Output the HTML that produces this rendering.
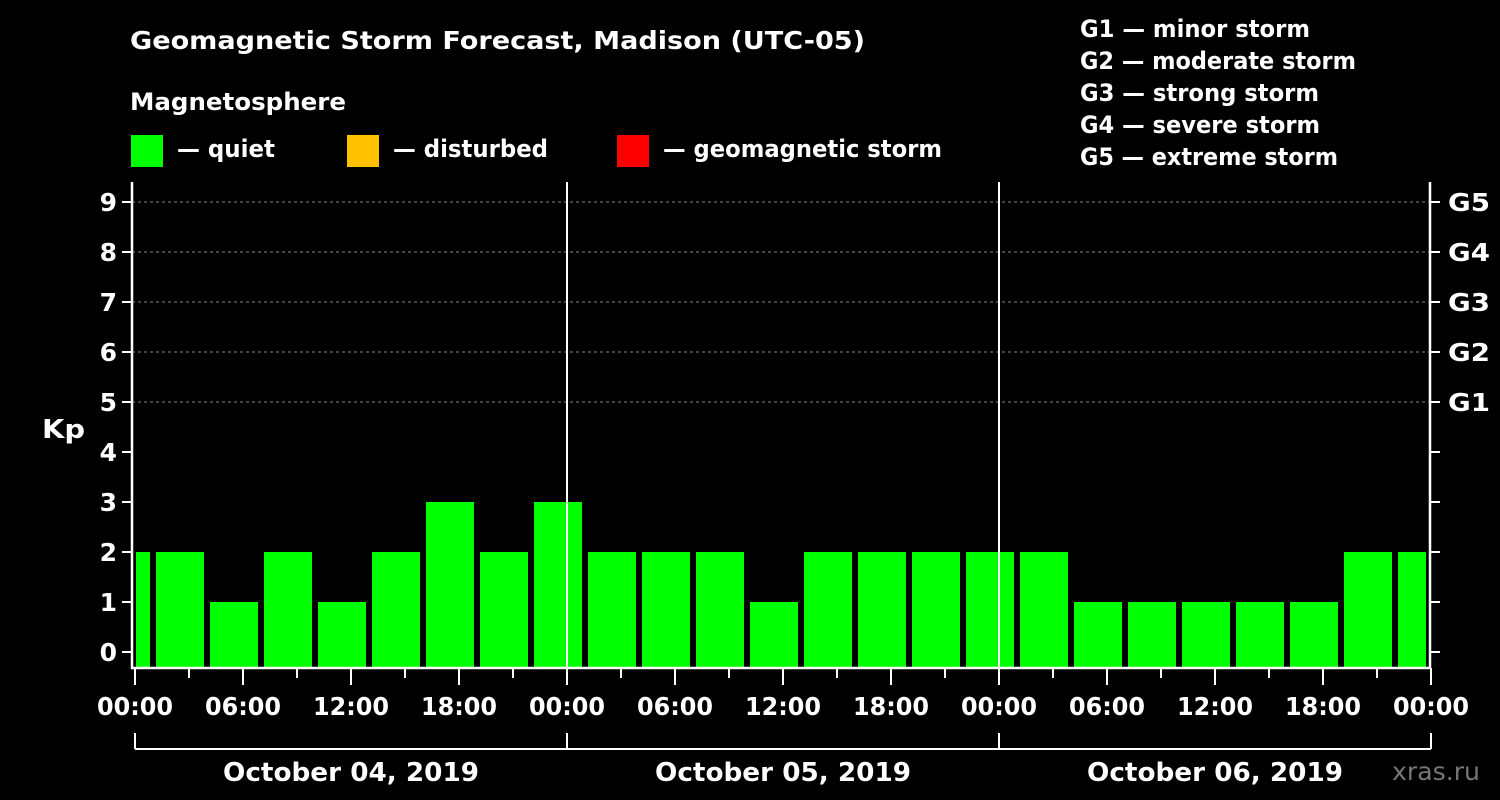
<!DOCTYPE html>
<html><head><meta charset="utf-8"><style>
html,body{margin:0;padding:0;background:#000;}
svg{display:block;font-family:"DejaVu Sans","Liberation Sans",sans-serif;font-weight:bold;}
</style></head><body>
<svg id="chart" width="1500" height="800" viewBox="0 0 1500 800">
<text x="130" y="49" fill="#fff" font-size="25" textLength="735" lengthAdjust="spacingAndGlyphs">Geomagnetic Storm Forecast, Madison (UTC-05)</text>
<text x="130" y="110" fill="#fff" font-size="24" textLength="216" lengthAdjust="spacingAndGlyphs">Magnetosphere</text>
<rect x="131" y="135" width="32" height="32" fill="#00ff00"/>
<text x="177" y="157" fill="#fff" font-size="24" textLength="98" lengthAdjust="spacingAndGlyphs">— quiet</text>
<rect x="347" y="135" width="32" height="32" fill="#ffc000"/>
<text x="393" y="157" fill="#fff" font-size="24" textLength="155" lengthAdjust="spacingAndGlyphs">— disturbed</text>
<rect x="617" y="135" width="32" height="32" fill="#ff0000"/>
<text x="663" y="157" fill="#fff" font-size="24" textLength="279" lengthAdjust="spacingAndGlyphs">— geomagnetic storm</text>
<g fill="#fff" font-size="24">
<text x="1080" y="37" textLength="230" lengthAdjust="spacingAndGlyphs">G1 — minor storm</text>
<text x="1080" y="69" textLength="276" lengthAdjust="spacingAndGlyphs">G2 — moderate storm</text>
<text x="1080" y="101" textLength="239" lengthAdjust="spacingAndGlyphs">G3 — strong storm</text>
<text x="1080" y="133" textLength="240" lengthAdjust="spacingAndGlyphs">G4 — severe storm</text>
<text x="1080" y="165" textLength="258" lengthAdjust="spacingAndGlyphs">G5 — extreme storm</text>
</g>
<text x="42" y="438" fill="#fff" font-size="26" textLength="43" lengthAdjust="spacingAndGlyphs">Kp</text>
<text x="1392" y="780" fill="#777" font-size="25" font-weight="normal" textLength="88" lengthAdjust="spacingAndGlyphs">xras.ru</text>
<g id="plot"></g>
</svg>
<script>
const startHours=[-2,1,4,7,10,13,16,19,22,25,28,31,34,37,40,43,46,49,52,55,58,61,64,67,70];
const kpValues=[2,2,1,2,1,2,3,2,3,2,2,2,1,2,2,2,2,2,1,1,1,1,1,2,2];
const yTicks=[0,1,2,3,4,5,6,7,8,9];
const gLabels=["G1","G2","G3","G4","G5"];
const gLevels=[5,6,7,8,9];
const dayLabels=["October 04, 2019","October 05, 2019","October 06, 2019"];
const xLabels=["00:00","06:00","12:00","18:00"];

const X0=135,PXH=18,TOTAL=72,L=132,R=1430,T=182,B=668;
const x=h=>X0+h*PXH;
const y=v=>652-v*50;
const NS="http://www.w3.org/2000/svg";
const g=document.getElementById('plot');
function mk(tag,attrs){const e=document.createElementNS(NS,tag);for(const k in attrs)e.setAttribute(k,attrs[k]);g.appendChild(e);return e;}
function clampX(v){return Math.max(L+4,Math.min(R-4,v));}

gLevels.forEach(v=>{
 const e=mk('line',{x1:L,x2:R,y1:y(v),y2:y(v),stroke:'#888','stroke-dasharray':'3,3','stroke-width':1});
 
 
});
startHours.forEach((h,i)=>{
 const a=clampX(x(h)+3),b=clampX(x(h+3)-3);
 const e=mk('rect',{x:a,y:y(kpValues[i]),width:Math.max(0,b-a),height:B-y(kpValues[i]),fill:'#00ff00'});
 
 
});
[1,2].forEach(d=>{
 const e=mk('line',{x1:x(d*24),x2:x(d*24),y1:T,y2:B,stroke:'#fff','stroke-width':2});
 
 
});
const fr=mk('path',{d:`M${L},${T}V${B}H${R}V${T}`,fill:'none',stroke:'#fff','stroke-width':2.5});


yTicks.forEach(v=>{
 const t=mk('line',{x1:L-10,x2:L,y1:y(v),y2:y(v),stroke:'#fff','stroke-width':2});
 
 
 const t2=mk('line',{x1:R,x2:R+10,y1:y(v),y2:y(v),stroke:'#fff','stroke-width':2});
 
 
 const l=mk('text',{x:L-15,y:y(v)+9,fill:'#fff','font-size':25,'text-anchor':'end'});
 l.textContent=v;
 
 
});
gLabels.forEach((s,i)=>{
 const l=mk('text',{x:R+18,y:y(gLevels[i])+9,fill:'#fff','font-size':25,textLength:42,lengthAdjust:'spacingAndGlyphs'});
 l.textContent=s;
 
 
});
for(let h=0;h<=TOTAL;h+=3){
 const major=h%6===0;
 const t=mk('line',{x1:x(h),x2:x(h),y1:B,y2:major?B+17:B+10,stroke:'#fff','stroke-width':2});
 
 
}
for(let h=0;h<=TOTAL;h+=6){
 const l=mk('text',{x:x(h)-38,y:715,fill:'#fff','font-size':25,textLength:76,lengthAdjust:'spacingAndGlyphs'});
 l.textContent=xLabels[(h/6)%4];
 
 
}
const br=mk('line',{x1:x(0),x2:x(TOTAL),y1:749,y2:749,stroke:'#fff','stroke-width':2});


for(let d=0;d<=3;d++){
 const t=mk('line',{x1:x(d*24),x2:x(d*24),y1:733,y2:749,stroke:'#fff','stroke-width':2});
 
 
}
dayLabels.forEach((s,i)=>{
 const l=mk('text',{x:x(i*24+12)-128,y:781,fill:'#fff','font-size':26,textLength:256,lengthAdjust:'spacingAndGlyphs'});
 l.textContent=s;
 
 
});
</script>
</body></html>
